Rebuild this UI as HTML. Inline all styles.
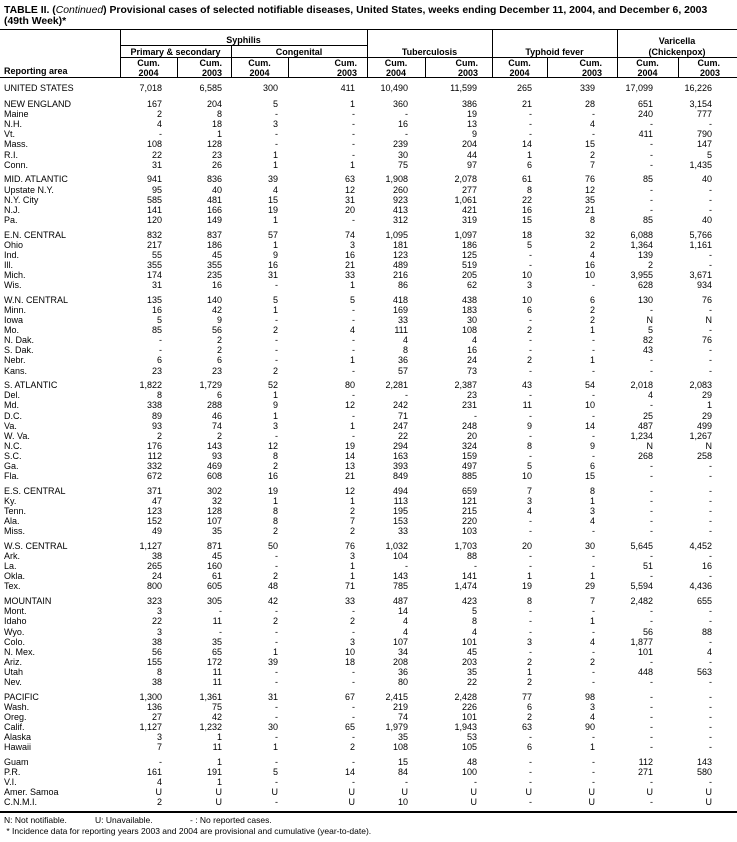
<!DOCTYPE html>
<html><head><meta charset="utf-8">
<style>
*{margin:0;padding:0;box-sizing:border-box}
body{width:737px;height:842px;background:#fff;position:relative;overflow:hidden;font-family:"Liberation Sans",Arial,sans-serif;color:#000}
.t{position:absolute;left:4px;font-size:10.4px;font-weight:bold;line-height:11px;white-space:nowrap}
.t i{font-weight:normal}
.hl{position:absolute;background:#000}
.h{position:absolute;font-size:9px;font-weight:bold;line-height:10px;white-space:nowrap}
.c{text-align:center}
.r{text-align:right}
#body{position:absolute;left:0;top:83px;width:737px}
.row{display:grid;grid-template-columns:120px 57px 54px 57px 79px 58px 67px 55px 70px 61px 59px;height:10.1px;line-height:10.1px;font-size:9px;white-space:nowrap}
.row div{text-align:right}
.row div:nth-child(1){text-align:left;padding-left:4px}
.row div:nth-child(2){padding-right:15px}
.row div:nth-child(3){padding-right:9px}
.row div:nth-child(4){padding-right:10px}
.row div:nth-child(5){padding-right:12px}
.row div:nth-child(6){padding-right:17px}
.row div:nth-child(7){padding-right:15px}
.row div:nth-child(8){padding-right:15px}
.row div:nth-child(9){padding-right:22px}
.row div:nth-child(10){padding-right:25px}
.row div:nth-child(11){padding-right:25px}
.g{margin-top:4.7px}
.us{margin-bottom:6px}
.f{position:absolute;font-size:8.5px;line-height:10px;white-space:nowrap}
</style></head><body>
<div class="t" style="top:5px">TABLE II. (<i>Continued</i>) Provisional cases of selected notifiable diseases, United States, weeks ending December 11, 2004, and December 6, 2003</div>
<div class="t" style="top:16px">(49th Week)*</div>

<div class="hl" style="left:0;top:29px;width:737px;height:1px"></div>
<div class="hl" style="left:120px;top:45px;width:247px;height:1px"></div>
<div class="hl" style="left:120px;top:57px;width:617px;height:1px"></div>
<div class="hl" style="left:0;top:77px;width:737px;height:1px"></div>
<div class="hl" style="left:120px;top:29px;width:1px;height:48px"></div>
<div class="hl" style="left:367px;top:29px;width:1px;height:48px"></div>
<div class="hl" style="left:492px;top:29px;width:1px;height:48px"></div>
<div class="hl" style="left:617px;top:29px;width:1px;height:48px"></div>
<div class="hl" style="left:231px;top:45px;width:1px;height:32px"></div>
<div class="hl" style="left:177px;top:57px;width:1px;height:20px"></div>
<div class="hl" style="left:288px;top:57px;width:1px;height:20px"></div>
<div class="hl" style="left:425px;top:57px;width:1px;height:20px"></div>
<div class="hl" style="left:547px;top:57px;width:1px;height:20px"></div>
<div class="hl" style="left:678px;top:57px;width:1px;height:20px"></div>

<div class="h c" style="left:120px;width:247px;top:35px">Syphilis</div>
<div class="h c" style="left:120px;width:111px;top:47px">Primary &amp; secondary</div>
<div class="h c" style="left:231px;width:136px;top:47px">Congenital</div>
<div class="h c" style="left:367px;width:125px;top:47px">Tuberculosis</div>
<div class="h c" style="left:492px;width:125px;top:47px">Typhoid fever</div>
<div class="h c" style="left:617px;width:120px;top:36px">Varicella</div>
<div class="h c" style="left:617px;width:120px;top:47px">(Chickenpox)</div>
<div class="h" style="left:4px;top:66px">Reporting area</div>

<div class="h c" style="left:120px;width:57px;top:58px">Cum.<br>2004</div>
<div class="h r" style="left:177px;width:45px;top:58px">Cum.<br>2003</div>
<div class="h c" style="left:231px;width:57px;top:58px">Cum.<br>2004</div>
<div class="h r" style="left:288px;width:69px;top:58px">Cum.<br>2003</div>
<div class="h c" style="left:367px;width:58px;top:58px">Cum.<br>2004</div>
<div class="h r" style="left:425px;width:53px;top:58px">Cum.<br>2003</div>
<div class="h c" style="left:492px;width:55px;top:58px">Cum.<br>2004</div>
<div class="h r" style="left:547px;width:55px;top:58px">Cum.<br>2003</div>
<div class="h c" style="left:617px;width:61px;top:58px">Cum.<br>2004</div>
<div class="h r" style="left:678px;width:42px;top:58px">Cum.<br>2003</div>

<div id="body">
<div class="row us"><div>UNITED STATES</div><div>7,018</div><div>6,585</div><div>300</div><div>411</div><div>10,490</div><div>11,599</div><div>265</div><div>339</div><div>17,099</div><div>16,226</div></div>

<div class="row"><div>NEW ENGLAND</div><div>167</div><div>204</div><div>5</div><div>1</div><div>360</div><div>386</div><div>21</div><div>28</div><div>651</div><div>3,154</div></div>
<div class="row"><div>Maine</div><div>2</div><div>8</div><div>-</div><div>-</div><div>-</div><div>19</div><div>-</div><div>-</div><div>240</div><div>777</div></div>
<div class="row"><div>N.H.</div><div>4</div><div>18</div><div>3</div><div>-</div><div>16</div><div>13</div><div>-</div><div>4</div><div>-</div><div>-</div></div>
<div class="row"><div>Vt.</div><div>-</div><div>1</div><div>-</div><div>-</div><div>-</div><div>9</div><div>-</div><div>-</div><div>411</div><div>790</div></div>
<div class="row"><div>Mass.</div><div>108</div><div>128</div><div>-</div><div>-</div><div>239</div><div>204</div><div>14</div><div>15</div><div>-</div><div>147</div></div>
<div class="row"><div>R.I.</div><div>22</div><div>23</div><div>1</div><div>-</div><div>30</div><div>44</div><div>1</div><div>2</div><div>-</div><div>5</div></div>
<div class="row"><div>Conn.</div><div>31</div><div>26</div><div>1</div><div>1</div><div>75</div><div>97</div><div>6</div><div>7</div><div>-</div><div>1,435</div></div>

<div class="row g"><div>MID. ATLANTIC</div><div>941</div><div>836</div><div>39</div><div>63</div><div>1,908</div><div>2,078</div><div>61</div><div>76</div><div>85</div><div>40</div></div>
<div class="row"><div>Upstate N.Y.</div><div>95</div><div>40</div><div>4</div><div>12</div><div>260</div><div>277</div><div>8</div><div>12</div><div>-</div><div>-</div></div>
<div class="row"><div>N.Y. City</div><div>585</div><div>481</div><div>15</div><div>31</div><div>923</div><div>1,061</div><div>22</div><div>35</div><div>-</div><div>-</div></div>
<div class="row"><div>N.J.</div><div>141</div><div>166</div><div>19</div><div>20</div><div>413</div><div>421</div><div>16</div><div>21</div><div>-</div><div>-</div></div>
<div class="row"><div>Pa.</div><div>120</div><div>149</div><div>1</div><div>-</div><div>312</div><div>319</div><div>15</div><div>8</div><div>85</div><div>40</div></div>

<div class="row g"><div>E.N. CENTRAL</div><div>832</div><div>837</div><div>57</div><div>74</div><div>1,095</div><div>1,097</div><div>18</div><div>32</div><div>6,088</div><div>5,766</div></div>
<div class="row"><div>Ohio</div><div>217</div><div>186</div><div>1</div><div>3</div><div>181</div><div>186</div><div>5</div><div>2</div><div>1,364</div><div>1,161</div></div>
<div class="row"><div>Ind.</div><div>55</div><div>45</div><div>9</div><div>16</div><div>123</div><div>125</div><div>-</div><div>4</div><div>139</div><div>-</div></div>
<div class="row"><div>Ill.</div><div>355</div><div>355</div><div>16</div><div>21</div><div>489</div><div>519</div><div>-</div><div>16</div><div>2</div><div>-</div></div>
<div class="row"><div>Mich.</div><div>174</div><div>235</div><div>31</div><div>33</div><div>216</div><div>205</div><div>10</div><div>10</div><div>3,955</div><div>3,671</div></div>
<div class="row"><div>Wis.</div><div>31</div><div>16</div><div>-</div><div>1</div><div>86</div><div>62</div><div>3</div><div>-</div><div>628</div><div>934</div></div>

<div class="row g"><div>W.N. CENTRAL</div><div>135</div><div>140</div><div>5</div><div>5</div><div>418</div><div>438</div><div>10</div><div>6</div><div>130</div><div>76</div></div>
<div class="row"><div>Minn.</div><div>16</div><div>42</div><div>1</div><div>-</div><div>169</div><div>183</div><div>6</div><div>2</div><div>-</div><div>-</div></div>
<div class="row"><div>Iowa</div><div>5</div><div>9</div><div>-</div><div>-</div><div>33</div><div>30</div><div>-</div><div>2</div><div>N</div><div>N</div></div>
<div class="row"><div>Mo.</div><div>85</div><div>56</div><div>2</div><div>4</div><div>111</div><div>108</div><div>2</div><div>1</div><div>5</div><div>-</div></div>
<div class="row"><div>N. Dak.</div><div>-</div><div>2</div><div>-</div><div>-</div><div>4</div><div>4</div><div>-</div><div>-</div><div>82</div><div>76</div></div>
<div class="row"><div>S. Dak.</div><div>-</div><div>2</div><div>-</div><div>-</div><div>8</div><div>16</div><div>-</div><div>-</div><div>43</div><div>-</div></div>
<div class="row"><div>Nebr.</div><div>6</div><div>6</div><div>-</div><div>1</div><div>36</div><div>24</div><div>2</div><div>1</div><div>-</div><div>-</div></div>
<div class="row"><div>Kans.</div><div>23</div><div>23</div><div>2</div><div>-</div><div>57</div><div>73</div><div>-</div><div>-</div><div>-</div><div>-</div></div>

<div class="row g"><div>S. ATLANTIC</div><div>1,822</div><div>1,729</div><div>52</div><div>80</div><div>2,281</div><div>2,387</div><div>43</div><div>54</div><div>2,018</div><div>2,083</div></div>
<div class="row"><div>Del.</div><div>8</div><div>6</div><div>1</div><div>-</div><div>-</div><div>23</div><div>-</div><div>-</div><div>4</div><div>29</div></div>
<div class="row"><div>Md.</div><div>338</div><div>288</div><div>9</div><div>12</div><div>242</div><div>231</div><div>11</div><div>10</div><div>-</div><div>1</div></div>
<div class="row"><div>D.C.</div><div>89</div><div>46</div><div>1</div><div>-</div><div>71</div><div>-</div><div>-</div><div>-</div><div>25</div><div>29</div></div>
<div class="row"><div>Va.</div><div>93</div><div>74</div><div>3</div><div>1</div><div>247</div><div>248</div><div>9</div><div>14</div><div>487</div><div>499</div></div>
<div class="row"><div>W. Va.</div><div>2</div><div>2</div><div>-</div><div>-</div><div>22</div><div>20</div><div>-</div><div>-</div><div>1,234</div><div>1,267</div></div>
<div class="row"><div>N.C.</div><div>176</div><div>143</div><div>12</div><div>19</div><div>294</div><div>324</div><div>8</div><div>9</div><div>N</div><div>N</div></div>
<div class="row"><div>S.C.</div><div>112</div><div>93</div><div>8</div><div>14</div><div>163</div><div>159</div><div>-</div><div>-</div><div>268</div><div>258</div></div>
<div class="row"><div>Ga.</div><div>332</div><div>469</div><div>2</div><div>13</div><div>393</div><div>497</div><div>5</div><div>6</div><div>-</div><div>-</div></div>
<div class="row"><div>Fla.</div><div>672</div><div>608</div><div>16</div><div>21</div><div>849</div><div>885</div><div>10</div><div>15</div><div>-</div><div>-</div></div>

<div class="row g"><div>E.S. CENTRAL</div><div>371</div><div>302</div><div>19</div><div>12</div><div>494</div><div>659</div><div>7</div><div>8</div><div>-</div><div>-</div></div>
<div class="row"><div>Ky.</div><div>47</div><div>32</div><div>1</div><div>1</div><div>113</div><div>121</div><div>3</div><div>1</div><div>-</div><div>-</div></div>
<div class="row"><div>Tenn.</div><div>123</div><div>128</div><div>8</div><div>2</div><div>195</div><div>215</div><div>4</div><div>3</div><div>-</div><div>-</div></div>
<div class="row"><div>Ala.</div><div>152</div><div>107</div><div>8</div><div>7</div><div>153</div><div>220</div><div>-</div><div>4</div><div>-</div><div>-</div></div>
<div class="row"><div>Miss.</div><div>49</div><div>35</div><div>2</div><div>2</div><div>33</div><div>103</div><div>-</div><div>-</div><div>-</div><div>-</div></div>

<div class="row g"><div>W.S. CENTRAL</div><div>1,127</div><div>871</div><div>50</div><div>76</div><div>1,032</div><div>1,703</div><div>20</div><div>30</div><div>5,645</div><div>4,452</div></div>
<div class="row"><div>Ark.</div><div>38</div><div>45</div><div>-</div><div>3</div><div>104</div><div>88</div><div>-</div><div>-</div><div>-</div><div>-</div></div>
<div class="row"><div>La.</div><div>265</div><div>160</div><div>-</div><div>1</div><div>-</div><div>-</div><div>-</div><div>-</div><div>51</div><div>16</div></div>
<div class="row"><div>Okla.</div><div>24</div><div>61</div><div>2</div><div>1</div><div>143</div><div>141</div><div>1</div><div>1</div><div>-</div><div>-</div></div>
<div class="row"><div>Tex.</div><div>800</div><div>605</div><div>48</div><div>71</div><div>785</div><div>1,474</div><div>19</div><div>29</div><div>5,594</div><div>4,436</div></div>

<div class="row g"><div>MOUNTAIN</div><div>323</div><div>305</div><div>42</div><div>33</div><div>487</div><div>423</div><div>8</div><div>7</div><div>2,482</div><div>655</div></div>
<div class="row"><div>Mont.</div><div>3</div><div>-</div><div>-</div><div>-</div><div>14</div><div>5</div><div>-</div><div>-</div><div>-</div><div>-</div></div>
<div class="row"><div>Idaho</div><div>22</div><div>11</div><div>2</div><div>2</div><div>4</div><div>8</div><div>-</div><div>1</div><div>-</div><div>-</div></div>
<div class="row"><div>Wyo.</div><div>3</div><div>-</div><div>-</div><div>-</div><div>4</div><div>4</div><div>-</div><div>-</div><div>56</div><div>88</div></div>
<div class="row"><div>Colo.</div><div>38</div><div>35</div><div>-</div><div>3</div><div>107</div><div>101</div><div>3</div><div>4</div><div>1,877</div><div>-</div></div>
<div class="row"><div>N. Mex.</div><div>56</div><div>65</div><div>1</div><div>10</div><div>34</div><div>45</div><div>-</div><div>-</div><div>101</div><div>4</div></div>
<div class="row"><div>Ariz.</div><div>155</div><div>172</div><div>39</div><div>18</div><div>208</div><div>203</div><div>2</div><div>2</div><div>-</div><div>-</div></div>
<div class="row"><div>Utah</div><div>8</div><div>11</div><div>-</div><div>-</div><div>36</div><div>35</div><div>1</div><div>-</div><div>448</div><div>563</div></div>
<div class="row"><div>Nev.</div><div>38</div><div>11</div><div>-</div><div>-</div><div>80</div><div>22</div><div>2</div><div>-</div><div>-</div><div>-</div></div>

<div class="row g"><div>PACIFIC</div><div>1,300</div><div>1,361</div><div>31</div><div>67</div><div>2,415</div><div>2,428</div><div>77</div><div>98</div><div>-</div><div>-</div></div>
<div class="row"><div>Wash.</div><div>136</div><div>75</div><div>-</div><div>-</div><div>219</div><div>226</div><div>6</div><div>3</div><div>-</div><div>-</div></div>
<div class="row"><div>Oreg.</div><div>27</div><div>42</div><div>-</div><div>-</div><div>74</div><div>101</div><div>2</div><div>4</div><div>-</div><div>-</div></div>
<div class="row"><div>Calif.</div><div>1,127</div><div>1,232</div><div>30</div><div>65</div><div>1,979</div><div>1,943</div><div>63</div><div>90</div><div>-</div><div>-</div></div>
<div class="row"><div>Alaska</div><div>3</div><div>1</div><div>-</div><div>-</div><div>35</div><div>53</div><div>-</div><div>-</div><div>-</div><div>-</div></div>
<div class="row"><div>Hawaii</div><div>7</div><div>11</div><div>1</div><div>2</div><div>108</div><div>105</div><div>6</div><div>1</div><div>-</div><div>-</div></div>

<div class="row g"><div>Guam</div><div>-</div><div>1</div><div>-</div><div>-</div><div>15</div><div>48</div><div>-</div><div>-</div><div>112</div><div>143</div></div>
<div class="row"><div>P.R.</div><div>161</div><div>191</div><div>5</div><div>14</div><div>84</div><div>100</div><div>-</div><div>-</div><div>271</div><div>580</div></div>
<div class="row"><div>V.I.</div><div>4</div><div>1</div><div>-</div><div>-</div><div>-</div><div>-</div><div>-</div><div>-</div><div>-</div><div>-</div></div>
<div class="row"><div>Amer. Samoa</div><div>U</div><div>U</div><div>U</div><div>U</div><div>U</div><div>U</div><div>U</div><div>U</div><div>U</div><div>U</div></div>
<div class="row"><div>C.N.M.I.</div><div>2</div><div>U</div><div>-</div><div>U</div><div>10</div><div>U</div><div>-</div><div>U</div><div>-</div><div>U</div></div>
</div>

<div class="hl" style="left:0;top:811px;width:737px;height:1.5px"></div>
<div class="f" style="left:4px;top:815px">N: Not notifiable.</div>
<div class="f" style="left:95px;top:815px">U: Unavailable.</div>
<div class="f" style="left:190px;top:815px">- : No reported cases.</div>
<div class="f" style="left:4px;top:826px">&nbsp;* Incidence data for reporting years 2003 and 2004 are provisional and cumulative (year-to-date).</div>
</body></html>
